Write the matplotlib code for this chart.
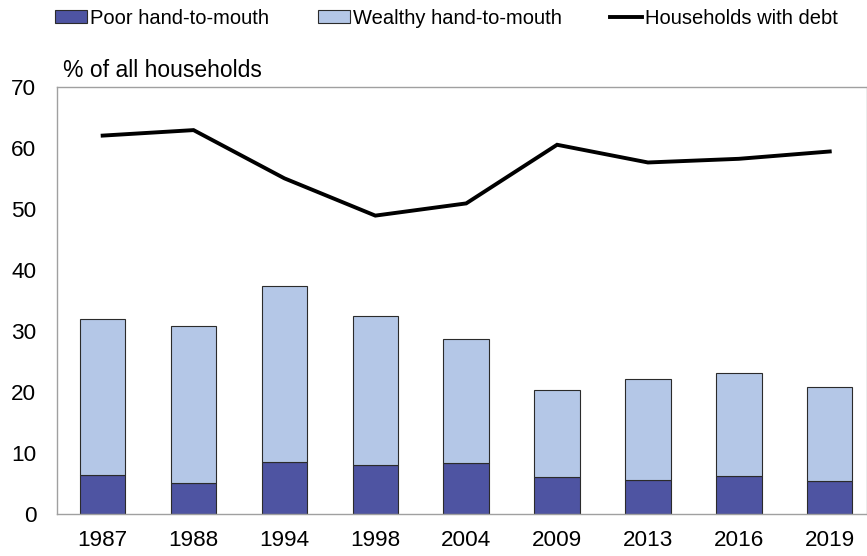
import numpy as np
import matplotlib
matplotlib.use('Agg')
import matplotlib.pyplot as plt

years = ['1987', '1988', '1994', '1998', '2004', '2009', '2013', '2016', '2019']
poor_htm = [6.4, 5.1, 8.6, 8.1, 8.4, 6.1, 5.6, 6.2, 5.5]
total_htm = [32.0, 30.9, 37.3, 32.5, 28.7, 20.3, 22.1, 23.1, 20.8]
wealthy_htm = [t - p for t, p in zip(total_htm, poor_htm)]
debt = [62.0, 62.9, 55.0, 48.9, 50.9, 60.5, 57.6, 58.2, 59.4]

plt.rcParams['font.family'] = ['Liberation Sans', 'DejaVu Sans']

fig = plt.figure(figsize=(8.67, 5.56), dpi=100)
ax = fig.add_axes([0.066, 0.075, 0.934, 0.769])

x = np.arange(len(years))
c_poor = '#4e54a2'
c_wealthy = '#b4c7e7'
edge = '#2b2b2b'

b1 = ax.bar(x, poor_htm, width=0.5, color=c_poor, edgecolor=edge, linewidth=0.8,
            label='Poor hand-to-mouth', zorder=2)
b2 = ax.bar(x, wealthy_htm, width=0.5, bottom=poor_htm, color=c_wealthy,
            edgecolor=edge, linewidth=0.8, label='Wealthy hand-to-mouth', zorder=2)
l1, = ax.plot(x, debt, color='black', linewidth=2.8, label='Households with debt',
              zorder=3, solid_joinstyle='miter')

ax.set_xlim(-0.5, 8.41)
ax.set_ylim(0, 70)
ax.set_yticks(range(0, 71, 10))
ax.set_xticks(x)
ax.set_xticklabels(years)
ax.tick_params(axis='both', length=0, labelsize=16.2)
ax.tick_params(axis='y', pad=15)
ax.tick_params(axis='x', pad=11)

for s in ['left', 'top', 'bottom', 'right']:
    ax.spines[s].set_color('#a0a0a0')
    ax.spines[s].set_linewidth(1.0)

fig.text(63 / 867, 1 - 77 / 556, '% of all households', fontsize=16.5,
         ha='left', va='baseline')

fig.legend([b1, b2, l1], [b1.get_label(), b2.get_label(), l1.get_label()],
           loc='center left', bbox_to_anchor=(55 / 867, 1 - 18 / 556),
           ncol=3, frameon=False, fontsize=14.5, borderpad=0, borderaxespad=0,
           handlelength=1.6, handleheight=0.6, handletextpad=0.15, columnspacing=2.4)

fig.savefig('out.png', dpi=100)
